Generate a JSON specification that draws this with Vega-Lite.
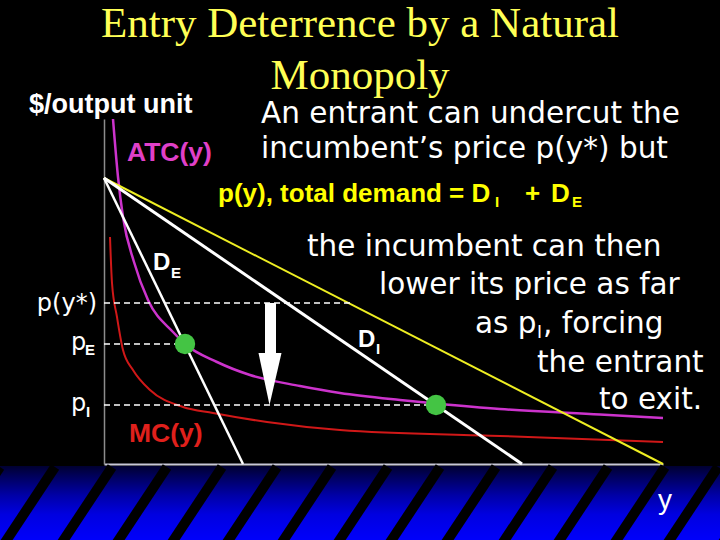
{
  "$schema": "https://vega.github.io/schema/vega-lite/v6.json",
  "width": 559,
  "height": 345,
  "autosize": "none",
  "padding": {"left": 104, "top": 119, "right": 57, "bottom": 76},
  "background": "#000000",
  "config": {
    "view": {"stroke": null},
    "axis": {"labels": false, "ticks": false, "grid": false, "zindex": 1},
    "axisX": {"domainColor": "#c8c8d8", "domainWidth": 2},
    "axisY": {"domainColor": "#8c8c8c", "domainWidth": 1.5}
  },
  "datasets": {
    "curves": [
      {"curve": "atc", "x": 9, "y": 345},
      {"curve": "atc", "x": 14, "y": 287},
      {"curve": "atc", "x": 19, "y": 247},
      {"curve": "atc", "x": 30, "y": 202},
      {"curve": "atc", "x": 44, "y": 164},
      {"curve": "atc", "x": 69, "y": 132},
      {"curve": "atc", "x": 81, "y": 120},
      {"curve": "atc", "x": 113, "y": 102},
      {"curve": "atc", "x": 146, "y": 89},
      {"curve": "atc", "x": 196, "y": 78},
      {"curve": "atc", "x": 236, "y": 71},
      {"curve": "atc", "x": 296, "y": 64},
      {"curve": "atc", "x": 332, "y": 60.5},
      {"curve": "atc", "x": 396, "y": 55},
      {"curve": "atc", "x": 496, "y": 49.5},
      {"curve": "atc", "x": 559, "y": 46},
      {"curve": "mc", "x": 6, "y": 227},
      {"curve": "mc", "x": 8, "y": 181},
      {"curve": "mc", "x": 13, "y": 147},
      {"curve": "mc", "x": 19, "y": 114},
      {"curve": "mc", "x": 29, "y": 94},
      {"curve": "mc", "x": 46, "y": 74},
      {"curve": "mc", "x": 79, "y": 57},
      {"curve": "mc", "x": 109, "y": 51},
      {"curve": "mc", "x": 163, "y": 42},
      {"curve": "mc", "x": 236, "y": 34},
      {"curve": "mc", "x": 396, "y": 28},
      {"curve": "mc", "x": 559, "y": 22},
      {"curve": "total", "x": 0, "y": 286},
      {"curve": "total", "x": 559, "y": 0},
      {"curve": "di", "x": 0, "y": 286},
      {"curve": "di", "x": 418, "y": 0},
      {"curve": "de", "x": 0, "y": 286},
      {"curve": "de", "x": 139, "y": 0}
    ],
    "texts": [
      {"role": "title", "text": "Entry Deterrence by a Natural", "x": 256, "y": 427},
      {"role": "title", "text": "Monopoly", "x": 256, "y": 375},
      {"role": "body", "text": "An entrant can undercut the", "x": 157, "y": 341},
      {"role": "body", "text": "incumbent’s price p(y*) but", "x": 157, "y": 306},
      {"role": "body", "text": "the incumbent can then", "x": 203, "y": 208},
      {"role": "body", "text": "lower its price as far", "x": 275, "y": 170},
      {"role": "body", "text": "as p", "x": 371, "y": 131},
      {"role": "body", "text": ", forcing", "x": 439, "y": 131},
      {"role": "body", "text": "the entrant", "x": 433, "y": 92},
      {"role": "body", "text": "to exit.", "x": 495, "y": 55},
      {"role": "bodysub", "text": "I", "x": 433, "y": 126},
      {"role": "yellow", "text": "p(y), total demand = D", "x": 114, "y": 262},
      {"role": "yellow", "text": "+", "x": 421, "y": 262},
      {"role": "yellow", "text": "D", "x": 447, "y": 262},
      {"role": "yellowsub", "text": "I", "x": 391, "y": 257},
      {"role": "yellowsub", "text": "E", "x": 468, "y": 257},
      {"role": "unit", "text": "$/output unit", "x": -75, "y": 351},
      {"role": "atc", "text": "ATC(y)", "x": 23, "y": 303},
      {"role": "mc", "text": "MC(y)", "x": 25, "y": 22},
      {"role": "dlabel", "text": "D", "x": 49, "y": 194},
      {"role": "dlabel", "text": "D", "x": 254, "y": 117},
      {"role": "sub", "text": "E", "x": 67, "y": 186},
      {"role": "sub", "text": "I", "x": 272, "y": 110},
      {"role": "sub", "text": "E", "x": -19, "y": 109},
      {"role": "sub", "text": "I", "x": -18, "y": 47},
      {"role": "price", "text": "p", "x": -33, "y": 114},
      {"role": "price", "text": "p", "x": -33, "y": 53},
      {"role": "pstar", "text": "p(y*)", "x": -7, "y": 153},
      {"role": "xlabel", "text": "y", "x": 554, "y": -45}
    ]
  },
  "layer": [
    {
      "data": {"values": [{"x": -104, "x2": 616, "y": -2, "y2": -80}]},
      "mark": {
        "type": "rect",
        "fill": {
          "gradient": "linear", "x1": 0, "y1": 0, "x2": 0, "y2": 1,
          "stops": [
            {"offset": 0, "color": "#000030"},
            {"offset": 0.12, "color": "#000058"},
            {"offset": 0.38, "color": "#0000a8"},
            {"offset": 0.62, "color": "#0000e0"},
            {"offset": 1, "color": "#0000ff"}
          ]
        }
      },
      "encoding": {
        "x": {"field": "x", "type": "quantitative", "title": null, "scale": {"domain": [0, 559], "nice": false, "zero": false}},
        "x2": {"field": "x2"},
        "y": {"field": "y", "type": "quantitative", "title": null, "scale": {"domain": [0, 345], "nice": false, "zero": false}},
        "y2": {"field": "y2"}
      }
    },
    {
      "data": {"values": [
        {"xt": -104, "xb": -155}, {"xt": -49, "xb": -100}, {"xt": 8, "xb": -43},
        {"xt": 63, "xb": 12}, {"xt": 118, "xb": 67}, {"xt": 173, "xb": 122},
        {"xt": 228, "xb": 177}, {"xt": 284, "xb": 233}, {"xt": 336, "xb": 285},
        {"xt": 392, "xb": 341}, {"xt": 449, "xb": 398}, {"xt": 504, "xb": 453},
        {"xt": 561, "xb": 510}, {"xt": 614, "xb": 563}, {"xt": 669, "xb": 618}
      ]},
      "mark": {"type": "rule", "color": "#000000", "strokeWidth": 10, "strokeCap": "butt"},
      "encoding": {
        "x": {"field": "xt", "type": "quantitative", "title": null},
        "x2": {"field": "xb"},
        "y": {"datum": -3, "type": "quantitative", "title": null},
        "y2": {"datum": -80}
      }
    },
    {
      "data": {"name": "curves"},
      "transform": [{"filter": "datum.curve == 'mc'"}],
      "mark": {"type": "line", "interpolate": "monotone", "color": "#d01818", "strokeWidth": 2},
      "encoding": {
        "x": {"field": "x", "type": "quantitative", "title": null},
        "y": {"field": "y", "type": "quantitative", "title": null}
      }
    },
    {
      "data": {"name": "curves"},
      "transform": [{"filter": "datum.curve == 'atc'"}],
      "mark": {"type": "line", "interpolate": "monotone", "color": "#cc33cc", "strokeWidth": 2.5},
      "encoding": {
        "x": {"field": "x", "type": "quantitative", "title": null},
        "y": {"field": "y", "type": "quantitative", "title": null}
      }
    },
    {
      "data": {"name": "curves"},
      "transform": [{"filter": "datum.curve == 'total'"}],
      "mark": {"type": "line", "color": "#eeee22", "strokeWidth": 2},
      "encoding": {
        "x": {"field": "x", "type": "quantitative", "title": null},
        "y": {"field": "y", "type": "quantitative", "title": null}
      }
    },
    {
      "data": {"name": "curves"},
      "transform": [{"filter": "datum.curve == 'di'"}],
      "mark": {"type": "line", "color": "#ffffff", "strokeWidth": 3},
      "encoding": {
        "x": {"field": "x", "type": "quantitative", "title": null},
        "y": {"field": "y", "type": "quantitative", "title": null}
      }
    },
    {
      "data": {"name": "curves"},
      "transform": [{"filter": "datum.curve == 'de'"}],
      "mark": {"type": "line", "color": "#ffffff", "strokeWidth": 2.5},
      "encoding": {
        "x": {"field": "x", "type": "quantitative", "title": null},
        "y": {"field": "y", "type": "quantitative", "title": null}
      }
    },
    {
      "data": {"values": [
        {"level": "p(y*)", "x": 0, "x2": 246, "y": 161},
        {"level": "pE", "x": 0, "x2": 81, "y": 120},
        {"level": "pI", "x": 0, "x2": 332, "y": 59}
      ]},
      "mark": {"type": "rule", "color": "#ffffff", "strokeWidth": 1.5, "strokeDash": [6, 4]},
      "encoding": {
        "x": {"field": "x", "type": "quantitative", "title": null},
        "x2": {"field": "x2"},
        "y": {"field": "y", "type": "quantitative", "title": null}
      }
    },
    {
      "data": {"values": [{"x": 166.5, "y": 161, "y2": 110}]},
      "mark": {"type": "rule", "color": "#ffffff", "strokeWidth": 11, "strokeCap": "butt"},
      "encoding": {
        "x": {"field": "x", "type": "quantitative", "title": null},
        "y": {"field": "y", "type": "quantitative", "title": null},
        "y2": {"field": "y2"}
      }
    },
    {
      "data": {"values": [
        {"x": 154.5, "y": 111, "y2": 111},
        {"x": 165.5, "y": 59, "y2": 111},
        {"x": 177.5, "y": 111, "y2": 111}
      ]},
      "mark": {"type": "area", "color": "#ffffff", "opacity": 1},
      "encoding": {
        "x": {"field": "x", "type": "quantitative", "title": null},
        "y": {"field": "y", "type": "quantitative", "title": null},
        "y2": {"field": "y2"}
      }
    },
    {
      "data": {"values": [{"x": 81, "y": 120}, {"x": 332, "y": 59}]},
      "mark": {"type": "point", "filled": true, "size": 415, "color": "#44c444", "opacity": 1},
      "encoding": {
        "x": {"field": "x", "type": "quantitative", "title": null},
        "y": {"field": "y", "type": "quantitative", "title": null}
      }
    },
    {
      "data": {"name": "texts"},
      "transform": [{"filter": "datum.role == 'title'"}],
      "mark": {"type": "text", "font": "Liberation Serif", "fontSize": 43, "color": "#ffff55", "align": "center", "baseline": "alphabetic"},
      "encoding": {
        "x": {"field": "x", "type": "quantitative", "title": null},
        "y": {"field": "y", "type": "quantitative", "title": null},
        "text": {"field": "text"}
      }
    },
    {
      "data": {"name": "texts"},
      "transform": [{"filter": "datum.role == 'body'"}],
      "mark": {"type": "text", "font": "DejaVu Sans", "fontSize": 29.5, "color": "#ffffff", "align": "left", "baseline": "alphabetic"},
      "encoding": {
        "x": {"field": "x", "type": "quantitative", "title": null},
        "y": {"field": "y", "type": "quantitative", "title": null},
        "text": {"field": "text"}
      }
    },
    {
      "data": {"name": "texts"},
      "transform": [{"filter": "datum.role == 'bodysub'"}],
      "mark": {"type": "text", "font": "DejaVu Sans", "fontSize": 17, "color": "#ffffff", "align": "left", "baseline": "alphabetic"},
      "encoding": {
        "x": {"field": "x", "type": "quantitative", "title": null},
        "y": {"field": "y", "type": "quantitative", "title": null},
        "text": {"field": "text"}
      }
    },
    {
      "data": {"name": "texts"},
      "transform": [{"filter": "datum.role == 'yellow'"}],
      "mark": {"type": "text", "font": "Liberation Sans", "fontWeight": "bold", "fontSize": 26, "color": "#ffff00", "align": "left", "baseline": "alphabetic"},
      "encoding": {
        "x": {"field": "x", "type": "quantitative", "title": null},
        "y": {"field": "y", "type": "quantitative", "title": null},
        "text": {"field": "text"}
      }
    },
    {
      "data": {"name": "texts"},
      "transform": [{"filter": "datum.role == 'yellowsub'"}],
      "mark": {"type": "text", "font": "Liberation Sans", "fontWeight": "bold", "fontSize": 15, "color": "#ffff00", "align": "left", "baseline": "alphabetic"},
      "encoding": {
        "x": {"field": "x", "type": "quantitative", "title": null},
        "y": {"field": "y", "type": "quantitative", "title": null},
        "text": {"field": "text"}
      }
    },
    {
      "data": {"name": "texts"},
      "transform": [{"filter": "datum.role == 'unit'"}],
      "mark": {"type": "text", "font": "Liberation Sans", "fontWeight": "bold", "fontSize": 27, "color": "#ffffff", "align": "left", "baseline": "alphabetic"},
      "encoding": {
        "x": {"field": "x", "type": "quantitative", "title": null},
        "y": {"field": "y", "type": "quantitative", "title": null},
        "text": {"field": "text"}
      }
    },
    {
      "data": {"name": "texts"},
      "transform": [{"filter": "datum.role == 'atc'"}],
      "mark": {"type": "text", "font": "Liberation Sans", "fontWeight": "bold", "fontSize": 26.5, "color": "#e040c8", "align": "left", "baseline": "alphabetic"},
      "encoding": {
        "x": {"field": "x", "type": "quantitative", "title": null},
        "y": {"field": "y", "type": "quantitative", "title": null},
        "text": {"field": "text"}
      }
    },
    {
      "data": {"name": "texts"},
      "transform": [{"filter": "datum.role == 'mc'"}],
      "mark": {"type": "text", "font": "Liberation Sans", "fontWeight": "bold", "fontSize": 26.5, "color": "#e0201c", "align": "left", "baseline": "alphabetic"},
      "encoding": {
        "x": {"field": "x", "type": "quantitative", "title": null},
        "y": {"field": "y", "type": "quantitative", "title": null},
        "text": {"field": "text"}
      }
    },
    {
      "data": {"name": "texts"},
      "transform": [{"filter": "datum.role == 'dlabel'"}],
      "mark": {"type": "text", "font": "Liberation Sans", "fontWeight": "bold", "fontSize": 24, "color": "#ffffff", "align": "left", "baseline": "alphabetic"},
      "encoding": {
        "x": {"field": "x", "type": "quantitative", "title": null},
        "y": {"field": "y", "type": "quantitative", "title": null},
        "text": {"field": "text"}
      }
    },
    {
      "data": {"name": "texts"},
      "transform": [{"filter": "datum.role == 'sub'"}],
      "mark": {"type": "text", "font": "Liberation Sans", "fontWeight": "bold", "fontSize": 15, "color": "#ffffff", "align": "left", "baseline": "alphabetic"},
      "encoding": {
        "x": {"field": "x", "type": "quantitative", "title": null},
        "y": {"field": "y", "type": "quantitative", "title": null},
        "text": {"field": "text"}
      }
    },
    {
      "data": {"name": "texts"},
      "transform": [{"filter": "datum.role == 'price'"}],
      "mark": {"type": "text", "font": "DejaVu Sans", "fontSize": 24, "color": "#ffffff", "align": "left", "baseline": "alphabetic"},
      "encoding": {
        "x": {"field": "x", "type": "quantitative", "title": null},
        "y": {"field": "y", "type": "quantitative", "title": null},
        "text": {"field": "text"}
      }
    },
    {
      "data": {"name": "texts"},
      "transform": [{"filter": "datum.role == 'pstar'"}],
      "mark": {"type": "text", "font": "DejaVu Sans", "fontSize": 24, "color": "#ffffff", "align": "right", "baseline": "alphabetic"},
      "encoding": {
        "x": {"field": "x", "type": "quantitative", "title": null},
        "y": {"field": "y", "type": "quantitative", "title": null},
        "text": {"field": "text"}
      }
    },
    {
      "data": {"name": "texts"},
      "transform": [{"filter": "datum.role == 'xlabel'"}],
      "mark": {"type": "text", "font": "Liberation Sans", "fontSize": 28, "color": "#ffffff", "align": "left", "baseline": "alphabetic"},
      "encoding": {
        "x": {"field": "x", "type": "quantitative", "title": null},
        "y": {"field": "y", "type": "quantitative", "title": null},
        "text": {"field": "text"}
      }
    }
  ]
}
